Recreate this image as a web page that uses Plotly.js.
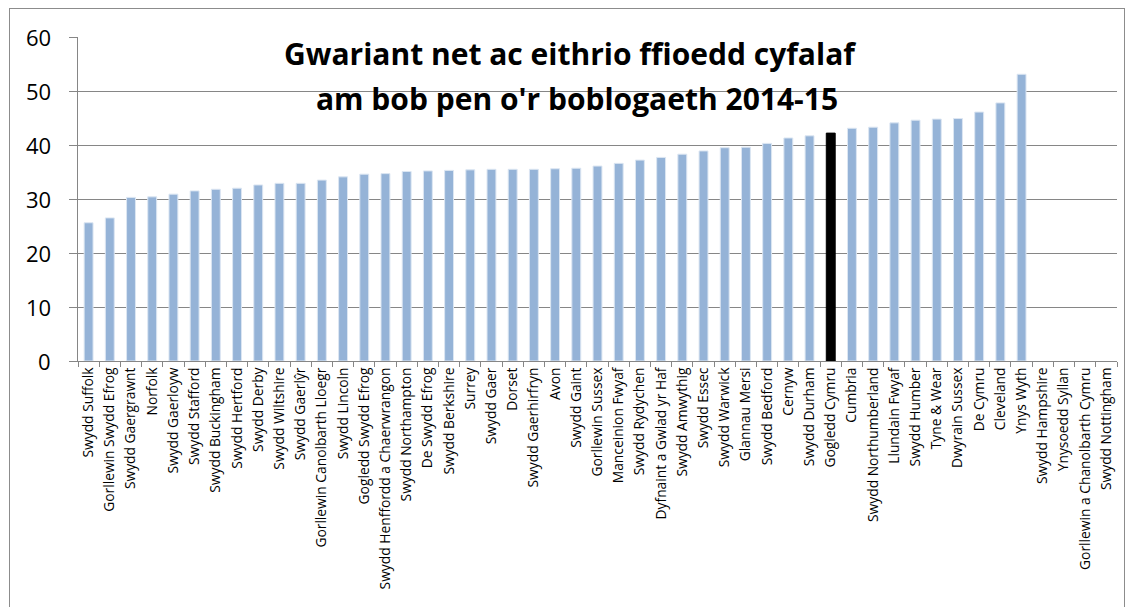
<!DOCTYPE html>
<html>
<head>
<meta charset="utf-8">
<script src="https://cdn.plot.ly/plotly-3.0.1.min.js"></script>
<style>
  html, body { margin: 0; padding: 0; background: #fff; }
  #frame { position: absolute; left: 9px; top: 8px; width: 1114px; height: 640px; border: 1px solid #8c8c8c; }
  #chart { position: absolute; left: 0; top: 0; width: 1134px; height: 607px; }
</style>
</head>
<body>
<div id="frame"></div>
<div id="chart"></div>
<script>
const categories = [
  "Swydd Suffolk", "Gorllewin Swydd Efrog", "Swydd Gaergrawnt", "Norfolk",
  "Swydd Gaerloyw", "Swydd Stafford", "Swydd Buckingham", "Swydd Hertford",
  "Swydd Derby", "Swydd Wiltshire", "Swydd Gaerlŷr", "Gorllewin Canolbarth Lloegr",
  "Swydd Lincoln", "Gogledd Swydd Efrog", "Swydd Henffordd a Chaerwrangon",
  "Swydd Northampton", "De Swydd Efrog", "Swydd Berkshire", "Surrey", "Swydd Gaer",
  "Dorset", "Swydd Gaerhirfryn", "Avon", "Swydd Gaint", "Gorllewin Sussex",
  "Manceinion Fwyaf", "Swydd Rydychen", "Dyfnaint a Gwlad yr Haf", "Swydd Amwythig",
  "Swydd Essec", "Swydd Warwick", "Glannau Mersi", "Swydd Bedford", "Cernyw",
  "Swydd Durham", "Gogledd Cymru", "Cumbria", "Swydd Northumberland",
  "Llundain Fwyaf", "Swydd Humber", "Tyne & Wear", "Dwyrain Sussex", "De Cymru",
  "Cleveland", "Ynys Wyth", "Swydd Hampshire", "Ynysoedd Syllan",
  "Gorllewin a Chanolbarth Cymru", "Swydd Nottingham"
];

const spendPerHead = [
  25.6, 26.5, 30.3, 30.4, 30.9, 31.5, 31.8, 32.0,
  32.6, 32.9, 32.9, 33.5, 34.1, 34.6, 34.7, 35.1,
  35.2, 35.3, 35.4, 35.5, 35.5, 35.5, 35.6, 35.7,
  36.1, 36.6, 37.2, 37.7, 38.3, 38.9, 39.5, 39.6,
  40.3, 41.3, 41.7, 42.2, 43.1, 43.3, 44.1, 44.6,
  44.8, 44.9, 46.1, 47.8, 53.1, null, null, null, null
];

const highlight = "Gogledd Cymru";
const titleLines = ["Gwariant net ac eithrio ffioedd cyfalaf", "am bob pen o'r boblogaeth 2014-15"];
const yTicks = [0, 10, 20, 30, 40, 50, 60];

const barColors = categories.map(c => c === highlight ? "#000000" : "#95B3D7");
const lineColors = categories.map(c => c === highlight ? "#000000" : "#DCE6F2");

const trace = {
  type: "bar",
  x: categories,
  y: spendPerHead,
  marker: { color: barColors, line: { color: lineColors, width: 1 } },
  hoverinfo: "x+y"
};

// y tick labels placed as annotations on the y axis scale (so they can sit further from the axis)
const yLabelAnnotations = yTicks.map(v => ({
  text: String(v),
  xref: "paper", yref: "y",
  x: -0.024, y: v,
  xanchor: "right", yanchor: "middle",
  showarrow: false,
  font: { size: 22, family: "Open Sans, sans-serif", color: "#000" }
}));

const layout = {
  width: 1134,
  height: 607,
  margin: { l: 78, r: 17, t: 37, b: 246, autoexpand: false },
  paper_bgcolor: "rgba(0,0,0,0)",
  plot_bgcolor: "rgba(0,0,0,0)",
  bargap: 0.58,
  showlegend: false,
  font: { family: "Open Sans, Liberation Sans, sans-serif", color: "#000" },
  xaxis: {
    type: "category",
    tickangle: -90,
    tickfont: { size: 13.8, color: "#000" },
    showline: true,
    linecolor: "#868686",
    linewidth: 1,
    ticks: "outside",
    tickson: "boundaries",
    ticklen: 5,
    tickcolor: "#868686",
    showgrid: false,
    automargin: false,
    fixedrange: true
  },
  yaxis: {
    range: [0, 60],
    tickvals: yTicks,
    showticklabels: false,
    showline: true,
    linecolor: "#868686",
    linewidth: 1,
    ticks: "outside",
    ticklen: 8,
    tickcolor: "#868686",
    showgrid: true,
    gridcolor: "#868686",
    gridwidth: 1,
    zeroline: false,
    automargin: false,
    fixedrange: true
  },
  annotations: [
    {
      text: "<b>" + titleLines[0] + "</b>",
      xref: "paper", yref: "paper",
      x: (570 - 78) / (1117 - 78), y: (361 - 53) / 324,
      xanchor: "center", yanchor: "middle",
      showarrow: false,
      font: { size: 30, family: "Open Sans, sans-serif", color: "#000" }
    },
    {
      text: "<b>" + titleLines[1] + "</b>",
      xref: "paper", yref: "paper",
      x: (577 - 78) / (1117 - 78), y: (361 - 99) / 324,
      xanchor: "center", yanchor: "middle",
      showarrow: false,
      font: { size: 30, family: "Open Sans, sans-serif", color: "#000" }
    }
  ].concat(yLabelAnnotations)
};

Plotly.newPlot("chart", [trace], layout, { displayModeBar: false, staticPlot: true });
</script>
</body>
</html>
